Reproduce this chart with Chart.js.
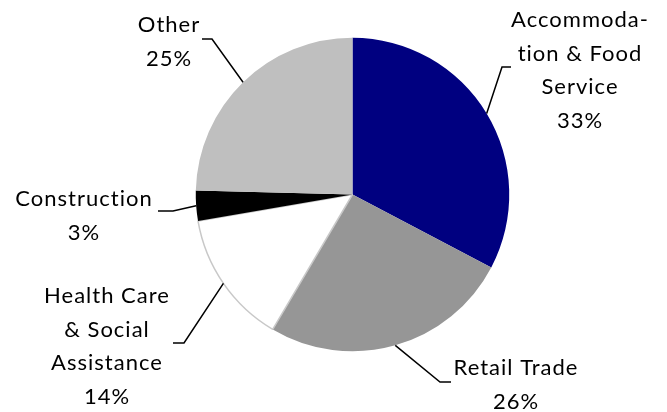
<!DOCTYPE html>
<html>
<head>
<meta charset="utf-8">
<script src="https://cdn.jsdelivr.net/npm/chart.js@4.4.0/dist/chart.umd.min.js"></script>
<style>
  html, body { margin: 0; padding: 0; background: #ffffff; }
  #wrap { width: 667px; height: 412px; position: relative; }
</style>
</head>
<body>
<div id="wrap"><canvas id="c" width="667" height="412"></canvas></div>
<script>
// ---- data ----
const categories = ["Accommodation & Food Service", "Retail Trade", "Health Care & Social Assistance", "Construction", "Other"];
const labelLines = [["Accommoda-", "tion & Food", "Service"], ["Retail Trade"], ["Health Care", "& Social", "Assistance"], ["Construction"], ["Other"]];
const shares = [32.7, 25.8, 13.8, 3.1, 24.6];
const sliceColors = ["#000080", "#969696", "#ffffff", "#000000", "#bfbfbf"];

// ---- label layout (positions only) ----
const labelLayout = [
  { elbow: [502, 67], end: [511, 67], cx: 580, firstBaseline: 27 },
  { elbow: [440, 382], end: [451, 382], cx: 516, firstBaseline: 375 },
  { elbow: [184, 343], end: [173, 343], cx: 107, firstBaseline: 303 },
  { elbow: [173, 211], end: [158, 211], cx: 84, firstBaseline: 206 },
  { elbow: [212, 39], end: [202, 39], cx: 169, firstBaseline: 32 }
];
const lineStep = 33.5;

const total = shares.reduce((a, b) => a + b, 0);

const leaderPlugin = {
  id: 'leaders',
  afterDatasetsDraw(chart) {
    const ctx = chart.ctx;
    const meta = chart.getDatasetMeta(0);
    ctx.save();
    meta.data.forEach((arc, i) => {
      const p = arc.getProps(['x', 'y', 'startAngle', 'endAngle', 'outerRadius'], true);
      const mid = (p.startAngle + p.endAngle) / 2;
      const sx = p.x + Math.cos(mid) * p.outerRadius;
      const sy = p.y + Math.sin(mid) * p.outerRadius;
      const L = labelLayout[i];
      ctx.beginPath();
      ctx.strokeStyle = '#000000';
      ctx.lineWidth = 1.5;
      ctx.moveTo(sx, sy);
      ctx.lineTo(L.elbow[0], L.elbow[1]);
      ctx.lineTo(L.end[0], L.end[1]);
      ctx.stroke();

      const lines = labelLines[i].concat([Math.round(shares[i] / total * 100) + '%']);
      ctx.fillStyle = '#000000';
      ctx.font = '22px Lato';
      ctx.letterSpacing = '1px';
      ctx.textAlign = 'center';
      ctx.textBaseline = 'alphabetic';
      lines.forEach((t, k) => {
        ctx.fillText(t, L.cx, L.firstBaseline + k * lineStep);
      });
    });
    ctx.restore();
  }
};

new Chart(document.getElementById('c'), {
  type: 'pie',
  data: {
    labels: categories,
    datasets: [{
      data: shares,
      backgroundColor: sliceColors,
      borderColor: ["#000080", "#969696", "#c8c8c8", "#000000", "#bfbfbf"],
      borderWidth: [0, 0, 1.5, 0, 0]
    }]
  },
  options: {
    responsive: false,
    animation: false,
    layout: { padding: { top: 37, bottom: 60, left: 38, right: 0 } },
    plugins: {
      legend: { display: false },
      tooltip: { enabled: false }
    }
  },
  plugins: [leaderPlugin]
});
</script>
</body>
</html>
